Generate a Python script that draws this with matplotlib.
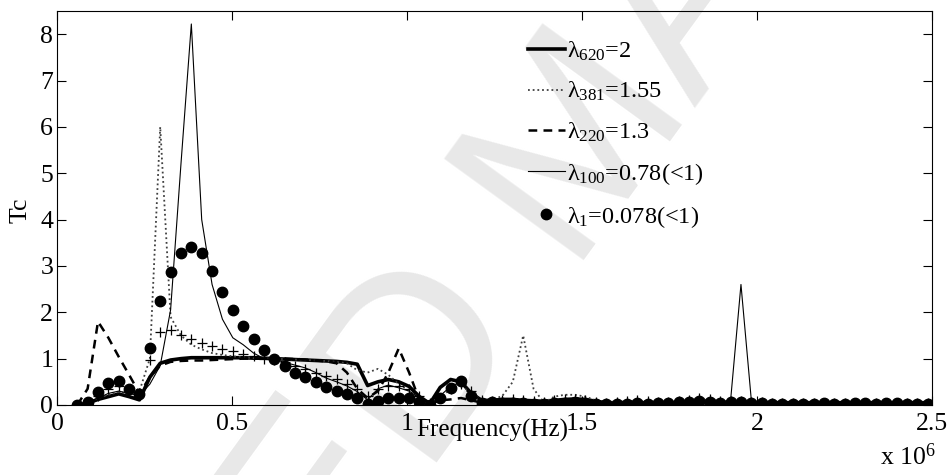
import numpy as np
import matplotlib
matplotlib.use("Agg")
import matplotlib.pyplot as plt

plt.rcParams['font.family'] = ['Liberation Serif', 'DejaVu Serif']
plt.rcParams['mathtext.fontset'] = 'custom'
plt.rcParams['mathtext.rm'] = 'Liberation Serif'
plt.rcParams['mathtext.it'] = 'Liberation Serif:italic'

# frequency grid (x 10^6 Hz), one sample every ~29.65 kHz
freq = 0.057 + 0.02965 * np.arange(83)

# lambda_620 = 2 (thick solid)
lam620 = [0.00, 0.04, 0.12, 0.18, 0.24, 0.18, 0.11, 0.60, 0.90, 0.97,
          1.00, 1.02, 1.02, 1.02, 1.02, 1.02, 1.02, 1.01, 1.01, 1.00,
          0.99, 0.98, 0.97, 0.96, 0.95, 0.94, 0.92, 0.88, 0.42, 0.50,
          0.55, 0.50, 0.40, 0.18, 0.03, 0.38, 0.55, 0.50, 0.25, 0.10,
          0.10, 0.12, 0.12, 0.10, 0.09, 0.08, 0.10, 0.12, 0.13, 0.12,
          0.08, 0.05, 0.05, 0.05, 0.05, 0.05, 0.05, 0.05, 0.05, 0.05,
          0.05, 0.05, 0.05, 0.05, 0.05, 0.05, 0.05, 0.05, 0.05, 0.05,
          0.05, 0.05, 0.05, 0.05, 0.05, 0.05, 0.05, 0.05, 0.05, 0.05,
          0.05, 0.05, 0.05]

# lambda_381 = 1.55 (dotted)
lam381 = [0.00, 0.05, 0.15, 0.22, 0.28, 0.25, 0.30, 1.00, 6.00, 1.90,
          1.50, 1.30, 1.20, 1.12, 1.08, 1.05, 1.03, 1.01, 1.00, 1.00,
          0.99, 0.98, 0.97, 0.96, 0.95, 0.93, 0.90, 0.75, 0.70, 0.78,
          0.65, 0.45, 0.30, 0.15, 0.02, 0.15, 0.35, 0.45, 0.25, 0.10,
          0.10, 0.20, 0.50, 1.50, 0.35, 0.05, 0.18, 0.22, 0.22, 0.18,
          0.10, 0.06, 0.06, 0.08, 0.10, 0.08, 0.06, 0.06, 0.08, 0.10,
          0.12, 0.10, 0.08, 0.06, 0.06, 0.06, 0.05, 0.05, 0.05, 0.05,
          0.05, 0.05, 0.05, 0.05, 0.05, 0.05, 0.05, 0.05, 0.05, 0.05,
          0.05, 0.05, 0.05]

# lambda_220 = 1.3 (dashed)
lam220 = [0.00, 0.35, 1.80, 1.45, 1.04, 0.65, 0.25, 0.60, 0.85, 0.93,
          0.95, 0.96, 0.96, 0.97, 0.98, 0.99, 1.00, 1.00, 1.00, 1.00,
          1.00, 0.99, 0.98, 0.96, 0.94, 0.90, 0.70, 0.35, 0.15, 0.30,
          0.70, 1.22, 0.70, 0.10, 0.02, 0.10, 0.12, 0.15, 0.10, 0.05,
          0.05, 0.06, 0.08, 0.06, 0.05, 0.05, 0.06, 0.08, 0.08, 0.06,
          0.04, 0.04, 0.04, 0.04, 0.04, 0.04, 0.04, 0.04, 0.04, 0.04,
          0.04, 0.04, 0.04, 0.04, 0.04, 0.04, 0.04, 0.04, 0.04, 0.04,
          0.04, 0.04, 0.04, 0.04, 0.04, 0.04, 0.04, 0.04, 0.04, 0.04,
          0.04, 0.04, 0.04]

# lambda_100 = 0.78 (thin solid)
lam100 = [0.00, 0.05, 0.15, 0.25, 0.30, 0.25, 0.20, 0.45, 0.85, 2.05,
          5.20, 8.22, 4.00, 2.60, 1.85, 1.45, 1.30, 1.12, 1.00, 0.98,
          0.92, 0.86, 0.80, 0.70, 0.58, 0.50, 0.41, 0.29, 0.11, 0.35,
          0.43, 0.37, 0.30, 0.15, 0.02, 0.20, 0.40, 0.50, 0.25, 0.10,
          0.08, 0.10, 0.12, 0.10, 0.08, 0.06, 0.08, 0.10, 0.10, 0.08,
          0.05, 0.04, 0.05, 0.05, 0.06, 0.05, 0.06, 0.06, 0.07, 0.08,
          0.08, 0.07, 0.07, 0.10, 2.60, 0.10, 0.06, 0.05, 0.05, 0.05,
          0.04, 0.04, 0.05, 0.04, 0.04, 0.05, 0.04, 0.04, 0.05, 0.04,
          0.04, 0.04, 0.04]

# lambda_1 = 0.078 (filled circles)
lam1 = [0.01, 0.07, 0.27, 0.47, 0.52, 0.34, 0.24, 1.24, 2.24, 2.88,
        3.27, 3.40, 3.27, 2.90, 2.44, 2.05, 1.70, 1.42, 1.19, 0.99,
        0.85, 0.70, 0.61, 0.50, 0.39, 0.30, 0.23, 0.14, 0.02, 0.09,
        0.16, 0.16, 0.14, 0.07, 0.00, 0.14, 0.36, 0.52, 0.20, 0.05,
        0.06, 0.05, 0.04, 0.05, 0.03, 0.02, 0.04, 0.05, 0.06, 0.05,
        0.02, 0.02, 0.03, 0.03, 0.04, 0.03, 0.04, 0.05, 0.06, 0.07,
        0.08, 0.06, 0.05, 0.06, 0.07, 0.05, 0.04, 0.03, 0.03, 0.02,
        0.03, 0.03, 0.04, 0.03, 0.03, 0.04, 0.04, 0.03, 0.05, 0.04,
        0.03, 0.03, 0.03]

# unlabelled series drawn with '+'
plus = [0.00, 0.05, 0.20, 0.35, 0.40, 0.35, 0.25, 0.98, 1.58, 1.62,
        1.51, 1.42, 1.34, 1.27, 1.21, 1.16, 1.11, 1.05, 1.00, 0.97,
        0.92, 0.85, 0.78, 0.70, 0.62, 0.55, 0.45, 0.35, 0.20, 0.35,
        0.40, 0.40, 0.35, 0.20, 0.05, 0.15, 0.35, 0.45, 0.30, 0.10,
        0.08, 0.10, 0.12, 0.10, 0.08, 0.06, 0.10, 0.12, 0.12, 0.10,
        0.06, 0.05, 0.06, 0.08, 0.10, 0.08, 0.06, 0.06, 0.08, 0.10,
        0.14, 0.12, 0.08, 0.08, 0.08, 0.06, 0.06, 0.05, 0.05, 0.05,
        0.05, 0.05, 0.05, 0.05, 0.05, 0.05, 0.05, 0.05, 0.05, 0.05,
        0.05, 0.05, 0.05]

labels = ['λ$_{620}$=2', 'λ$_{381}$=1.55', 'λ$_{220}$=1.3',
          'λ$_{100}$=0.78(<1)', 'λ$_{1}$=0.078(<1)']

fig = plt.figure(figsize=(9.49, 4.75), dpi=100)
ax = fig.add_axes([0.0604, 0.1474, 0.9214, 0.8294])
ax.set_facecolor('none')

# publisher watermark, light grey behind the data
fig.text(0.617, 0.688, 'ACCEPTED MANUSCRIPT', fontsize=180, color='#e8e8e8',
         family='Liberation Sans', rotation=54, rotation_mode='anchor',
         ha='center', va='center', zorder=-1)

ax.plot(freq, lam620, '-', color='k', lw=2.6, label=labels[0])
ax.plot(freq, lam381, color='0.25', lw=1.3, ls=(0, (1, 1.6)), label=labels[1])
ax.plot(freq, lam220, '--', color='k', lw=1.8, dashes=(3.5, 2.5), label=labels[2])
ax.plot(freq, lam100, '-', color='k', lw=0.8, label=labels[3])
ax.plot(freq, lam1, 'o', color='k', ms=7.5, ls='none', label=labels[4])
ax.plot(freq, plus, '+', color='k', ms=7, mew=0.9, ls='none')

ax.set_xlim(0, 2.5)
ax.set_ylim(0, 8.5)
ax.set_xticks([0, 0.5, 1, 1.5, 2, 2.5])
ax.set_xticklabels(['0', '0.5', '1', '1.5', '2', '2.5'])
ax.set_yticks(range(9))
ax.tick_params(direction='in', top=True, right=True, length=6.5, width=0.8,
               labelsize=18.5)
ax.tick_params(axis='x', pad=6)
ax.tick_params(axis='y', pad=3)
for s in ax.spines.values():
    s.set_linewidth(0.8)

ax.set_xlabel('Frequency(Hz)', fontsize=18)
ax.xaxis.set_label_coords(0.497, -0.035)
ax.set_ylabel('Tc', fontsize=18.5)
ax.yaxis.set_label_coords(-0.030, 0.495)
fig.text(880 / 949, 1 - 465 / 475, 'x 10$^{6}$', fontsize=18.5,
         ha='left', va='baseline')

ax.legend(loc='upper left', bbox_to_anchor=(0.538, 0.927), frameon=False,
          fontsize=17.5, handlelength=1.52, handletextpad=0.08,
          borderaxespad=0, borderpad=0, labelspacing=0.70)

fig.savefig('out.png', dpi=100)
